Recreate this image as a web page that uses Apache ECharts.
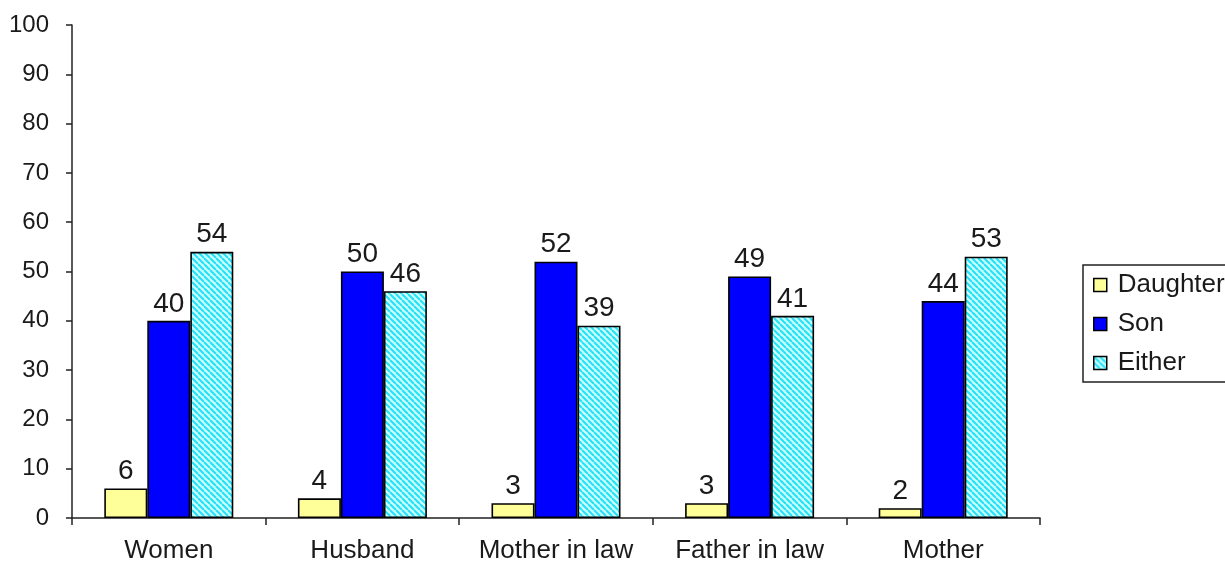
<!DOCTYPE html>
<html>
<head>
<meta charset="utf-8">
<script src="https://cdn.jsdelivr.net/npm/echarts@6/dist/echarts.min.js"></script>
<style>html,body{margin:0;padding:0;background:#fff}#c{width:1225px;height:564px}</style>
</head>
<body>
<div id="c"></div>
<script>
const categories = ['Women', 'Husband', 'Mother in law', 'Father in law', 'Mother'];
const daughter = [6, 4, 3, 3, 2];
const son = [40, 50, 52, 49, 44];
const either = [54, 46, 39, 41, 53];
const yTicks = [0, 10, 20, 30, 40, 50, 60, 70, 80, 90, 100];

const pc = document.createElement('canvas');
pc.width = 6; pc.height = 6;
const g = pc.getContext('2d');
g.fillStyle = '#c8ffff';
g.fillRect(0, 0, 6, 6);
g.strokeStyle = '#22e0f8';
g.lineWidth = 2;
for (let k = -6; k <= 12; k += 6) {
  g.beginPath(); g.moveTo(k, 0); g.lineTo(k + 6, 6); g.stroke();
}

const chart = echarts.init(document.getElementById('c'));
const font = 'Liberation Sans, Arial, sans-serif';
const lbl = {show: true, position: 'top', distance: 3, fontSize: 28, color: '#1a1a1a', fontFamily: font};
const border = {borderColor: '#000', borderWidth: 1.6};
chart.setOption({
  animation: false,
  grid: {left: 72, right: 185, top: 25, bottom: 46, containLabel: false},
  legend: {
    orient: 'vertical', left: 1083, top: 265,
    padding: [7, 30, 6, 10],
    icon: 'rect',
    itemWidth: 13, itemHeight: 13, itemGap: 13,
    borderColor: '#222', borderWidth: 1.5,
    itemStyle: {borderColor: '#000', borderWidth: 1.5},
    textStyle: {fontSize: 26, lineHeight: 24, color: '#1a1a1a', fontFamily: font, padding: [0, 0, 0, 6]},
    data: ['Daughter', 'Son', 'Either']
  },
  xAxis: {
    type: 'category', data: categories,
    axisLine: {lineStyle: {color: '#222', width: 1.5}},
    axisTick: {show: true, interval: 0, length: 7, lineStyle: {color: '#222', width: 1.5}},
    axisLabel: {interval: 0, fontSize: 26, color: '#1a1a1a', fontFamily: font, margin: 20}
  },
  yAxis: {
    type: 'value', min: yTicks[0], max: yTicks[yTicks.length - 1], interval: 10,
    axisLine: {show: true, lineStyle: {color: '#222', width: 1.5}},
    axisTick: {show: true, length: 6, lineStyle: {color: '#222', width: 1.5}},
    splitLine: {show: false},
    axisLabel: {fontSize: 24, color: '#1a1a1a', fontFamily: font, margin: 23}
  },
  series: [
    {name: 'Daughter', type: 'bar', data: daughter, barWidth: 43, barGap: '0%',
     itemStyle: Object.assign({color: '#ffff99'}, border), label: lbl},
    {name: 'Son', type: 'bar', data: son, barWidth: 43, barGap: '0%',
     itemStyle: Object.assign({color: '#0000ff'}, border), label: lbl},
    {name: 'Either', type: 'bar', data: either, barWidth: 43, barGap: '0%',
     itemStyle: Object.assign({color: {image: pc, repeat: 'repeat'}}, border), label: lbl}
  ]
});
</script>
</body>
</html>
